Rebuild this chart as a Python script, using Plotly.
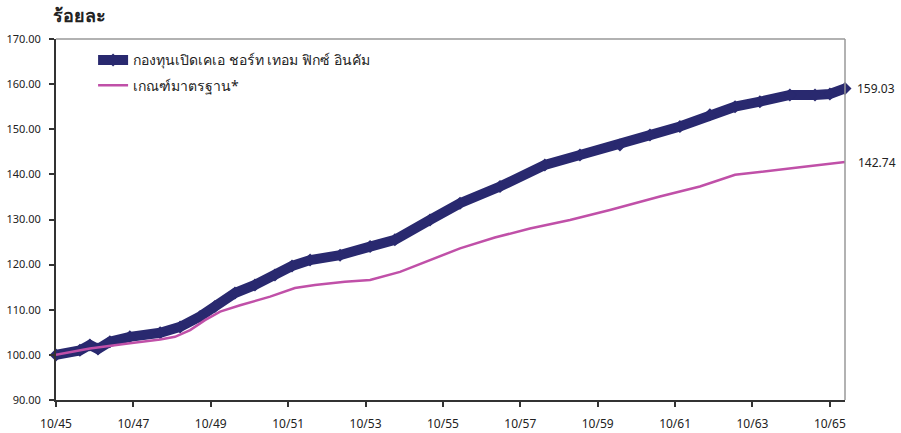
import plotly.graph_objects as go

# months since 10/45
fund_month = [0, 7.4, 10.5, 13, 16.7, 22.9, 32.3, 38.5, 44.7, 49.3, 55.5, 61.7, 67.9, 73.2,
              78.8, 88.1, 97.4, 105.1, 116, 125.3, 137.7, 151.6, 162.5, 174.9, 184.2, 193.5,
              202.8, 210.6, 218.3, 227.6, 235.4, 240, 244.7]
fund_value = [100, 101, 102.2, 101.3, 102.9, 104, 104.9, 106.2, 108.5, 110.7, 113.7, 115.5,
              117.7, 119.7, 121, 122.1, 124, 125.5, 129.9, 133.6, 137.3, 142.1, 144.3, 146.5,
              148.7, 150.6, 153.2, 155, 156.1, 157.6, 157.6, 157.8, 159.03]

bench_month = [0, 10.5, 22.9, 32.3, 36.9, 41.6, 46.2, 50.9, 57.1, 66.4, 74.1, 80.3, 89.6,
               97.4, 106.7, 116, 125.3, 136.1, 147, 159.4, 171.8, 187.3, 199.7, 210.6,
               218.3, 230.7, 244.7]
bench_value = [100, 101.4, 102.6, 103.4, 104, 105.5, 107.7, 109.6, 111, 112.9, 114.8, 115.5,
               116.2, 116.6, 118.4, 121, 123.6, 126, 128, 129.9, 132.1, 135.1, 137.3, 139.9,
               140.6, 141.6, 142.74]

tick_months = [0, 24, 48, 72, 96, 120, 144, 168, 192, 216, 240]
tick_labels = ["10/45", "10/47", "10/49", "10/51", "10/53", "10/55", "10/57", "10/59",
               "10/61", "10/63", "10/65"]
y_ticks = [90, 100, 110, 120, 130, 140, 150, 160, 170]

series_names = ["กองทุนเปิดเคเอ ชอร์ท เทอม ฟิกซ์ อินคัม", "เกณฑ์มาตรฐาน*"]

FUND = "#29296F"
BENCH = "#C050A8"
FONT = "Noto Sans, sans-serif"

fig = go.Figure()
fig.add_trace(go.Scatter(
    x=fund_month, y=fund_value, mode="lines+markers", name=series_names[0],
    line=dict(color=FUND, width=10), marker=dict(symbol="diamond", size=10, color=FUND),
    cliponaxis=False, legendgroup="a"))
fig.add_trace(go.Scatter(
    x=bench_month, y=bench_value, mode="lines", name=series_names[1],
    line=dict(color=BENCH, width=2.5), cliponaxis=False, legendgroup="b"))

fig.add_annotation(x=fund_month[-1], y=fund_value[-1], text=f"{fund_value[-1]:.2f}",
                   showarrow=False, xanchor="left", xshift=10,
                   font=dict(size=12, color="#222", family=FONT))
fig.add_annotation(x=bench_month[-1], y=bench_value[-1], text=f"{bench_value[-1]:.2f}",
                   showarrow=False, xanchor="left", xshift=11,
                   font=dict(size=12, color="#222", family=FONT))
fig.add_annotation(xref="paper", yref="paper", x=-0.006, y=1.0, yshift=24,
                   text="<b>ร้อยละ</b>", showarrow=False, xanchor="left", yanchor="middle",
                   font=dict(size=18, color="#222", family=FONT))

fig.add_shape(type="line", xref="paper", yref="paper", x0=0, x1=1, y0=1, y1=1,
              line=dict(color="#999", width=1.5))
fig.add_shape(type="line", xref="paper", yref="paper", x0=1, x1=1, y0=0, y1=1,
              line=dict(color="#999", width=1.5))

fig.update_layout(
    width=901, height=433,
    margin=dict(l=56, r=56, t=39, b=33),
    paper_bgcolor="white", plot_bgcolor="white",
    font=dict(family=FONT, size=12, color="#222"),
    showlegend=True,
    legend=dict(x=0.047, y=0.985, xanchor="left", yanchor="top", bgcolor="rgba(0,0,0,0)",
                font=dict(size=14, color="#222"), tracegroupgap=4, traceorder="grouped",
                itemwidth=30),
    xaxis=dict(range=[0, 244.7], tickmode="array", tickvals=tick_months, ticktext=tick_labels,
               showgrid=False, zeroline=False, showline=True, linecolor="#333", linewidth=2,
               ticks="outside", ticklen=5, tickcolor="#333", tickwidth=1.5,
               tickfont=dict(size=12), ticklabelstandoff=7, automargin=False),
    yaxis=dict(range=[90, 170], tickmode="array", tickvals=y_ticks,
               ticktext=[f"{v:.2f}" for v in y_ticks],
               showgrid=False, zeroline=False, showline=True, linecolor="#333", linewidth=2,
               ticks="outside", ticklen=5, tickcolor="#333", tickwidth=1.5,
               tickfont=dict(size=11), ticklabelstandoff=6, automargin=False),
)

fig.write_html("out.html", config={"displayModeBar": False},
               post_script="document.body.style.margin='0px';")
